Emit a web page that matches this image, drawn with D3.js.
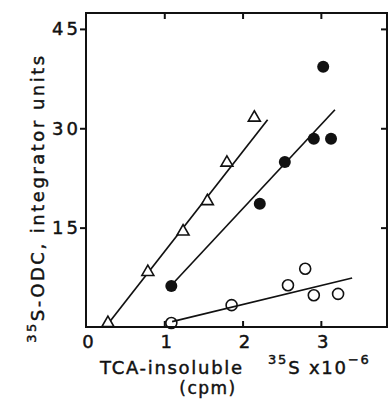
<!DOCTYPE html>
<html>
<head>
<meta charset="utf-8">
<script src="https://cdn.jsdelivr.net/npm/d3@7"></script>
<style>
  body { margin: 0; background: #fff; }
  text { font-family: "DejaVu Sans", sans-serif; fill: #111; stroke: #111; stroke-width: 0.45px; }
</style>
</head>
<body>
<div id="chart"></div>
<script>
// data (x = TCA-insoluble 35S x10^-6 cpm, y = integrator units)
const triangleX = [0.28, 0.79, 1.24, 1.55, 1.80, 2.15];
const triangleY = [0.6, 8.3, 14.4, 19.0, 24.8, 31.6];
const filledX = [1.09, 2.22, 2.54, 2.91, 3.13, 3.03];
const filledY = [6.2, 18.6, 24.9, 28.4, 28.4, 39.3];
const openX = [1.09, 1.86, 2.58, 2.80, 2.91, 3.22];
const openY = [0.6, 3.3, 6.3, 8.8, 4.8, 5.0];

// fitted lines, drawn as [x, y] end points
const triangleFit = [[0.27, 0.3], [2.32, 31.3]];
const filledFit = [[1.09, 6.3], [3.18, 32.8]];
const openFit = [[1.10, 0.8], [3.40, 7.4]];

const xTicks = [0, 1, 2, 3];
const yTicks = [15, 30, 45];

const width = 392, height = 402;
const mLeft = 86, mRight = 387, mTop = 13, mBottom = 327;

const svg = d3.select('#chart').append('svg')
  .attr('width', width)
  .attr('height', height);

const x = d3.scaleLinear().domain([0, 3.845]).range([mLeft, mRight]);
const y = d3.scaleLinear().domain([0, 47.4]).range([mBottom, mTop]);

// frame
svg.append('rect')
  .attr('x', mLeft).attr('y', mTop)
  .attr('width', mRight - mLeft).attr('height', mBottom - mTop)
  .attr('fill', 'none').attr('stroke', '#111').attr('stroke-width', 2);

// tick marks
const tickStyle = g => g.call(s => s.select('.domain').remove())
  .selectAll('line').attr('stroke', '#111').attr('stroke-width', 2);

svg.append('g').attr('transform', `translate(0,${mBottom})`)
  .call(d3.axisBottom(x).tickValues(xTicks.slice(1)).tickSize(-6).tickFormat(''))
  .call(tickStyle);
svg.append('g').attr('transform', `translate(0,${mTop})`)
  .call(d3.axisTop(x).tickValues(xTicks.slice(1)).tickSize(-6).tickFormat(''))
  .call(tickStyle);
svg.append('g').attr('transform', `translate(${mLeft},0)`)
  .call(d3.axisLeft(y).tickValues(yTicks).tickSize(6).tickFormat(''))
  .call(tickStyle);
svg.append('g').attr('transform', `translate(${mRight},0)`)
  .call(d3.axisRight(y).tickValues(yTicks).tickSize(-6).tickFormat(''))
  .call(tickStyle);

// tick labels
svg.selectAll('.xlab').data(xTicks).enter().append('text')
  .attr('class', 'xlab')
  .attr('x', d => x(d) + 2)
  .attr('y', 348)
  .attr('text-anchor', 'middle')
  .attr('font-size', 18)
  .text(d => d);

svg.selectAll('.ylab').data(yTicks).enter().append('text')
  .attr('class', 'ylab')
  .attr('x', 81)
  .attr('y', d => y(d) + 6.5)
  .attr('text-anchor', 'end')
  .attr('font-size', 18)
  .attr('letter-spacing', 3)
  .text(d => d);

// fitted lines
const line = d3.line().x(d => x(d[0])).y(d => y(d[1]));
[triangleFit, filledFit, openFit].forEach(f => {
  svg.append('path').attr('d', line(f))
    .attr('fill', 'none').attr('stroke', '#111').attr('stroke-width', 1.7);
});

// open circles
svg.selectAll('.open').data(d3.zip(openX, openY)).enter().append('circle')
  .attr('cx', d => x(d[0])).attr('cy', d => y(d[1])).attr('r', 5.5)
  .attr('fill', 'none').attr('stroke', '#111').attr('stroke-width', 1.6);

// filled circles
svg.selectAll('.filled').data(d3.zip(filledX, filledY)).enter().append('circle')
  .attr('cx', d => x(d[0])).attr('cy', d => y(d[1])).attr('r', 6)
  .attr('fill', '#111');

// triangles
const tri = d3.symbol().type(d3.symbolTriangle).size(62);
svg.selectAll('.tri').data(d3.zip(triangleX, triangleY)).enter().append('path')
  .attr('d', tri)
  .attr('transform', d => `translate(${x(d[0])},${y(d[1])})`)
  .attr('fill', '#fff').attr('stroke', '#111').attr('stroke-width', 1.6);

// y axis title
const yt = svg.append('text')
  .attr('transform', 'translate(44,198) rotate(-90)')
  .attr('text-anchor', 'middle')
  .attr('font-size', 18)
  .attr('letter-spacing', 2.5);
yt.append('tspan').attr('font-size', 13).attr('dy', -8).text('35');
yt.append('tspan').attr('dy', 8).text('S-ODC, integrator units');

// x axis title
svg.append('text')
  .attr('x', 100).attr('y', 374)
  .attr('font-size', 18)
  .attr('letter-spacing', 1.7)
  .text('TCA-insoluble');

const xt = svg.append('text')
  .attr('x', 268).attr('y', 374)
  .attr('font-size', 18)
  .attr('letter-spacing', 1.8);
xt.append('tspan').attr('font-size', 13).attr('dy', -10).text('35');
xt.append('tspan').attr('dy', 10).text('S x10');
xt.append('tspan').attr('font-size', 13).attr('dy', -10).text('−6');

svg.append('text')
  .attr('x', 208).attr('y', 394)
  .attr('text-anchor', 'middle')
  .attr('font-size', 17)
  .attr('letter-spacing', 1.5)
  .text('(cpm)');
</script>
</body>
</html>
